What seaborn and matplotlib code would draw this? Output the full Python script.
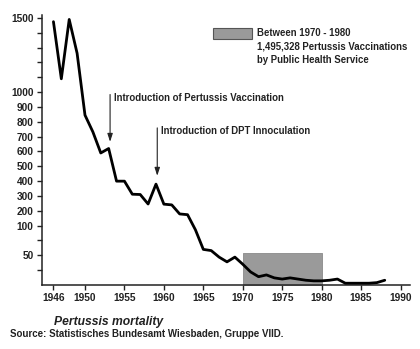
import numpy as np
import pandas as pd
import matplotlib
matplotlib.use("Agg")
import matplotlib.pyplot as plt
from matplotlib.patches import Rectangle
import seaborn as sns

# ---- data ----
years = list(range(1946, 1989))
deaths = [1475, 1090, 1490, 1262, 845, 732, 590, 620, 400, 400,
          312, 310, 246, 380, 245, 240, 179, 174, 93, 60,
          58, 47, 39, 47, 35, 22, 14, 17, 12, 10,
          12, 10, 8, 7, 7, 8, 10, 3, 3, 3,
          3, 4, 8]
vacc_start, vacc_end, vacc_level = 1970, 1980, 54
xtick_years = [1946, 1950, 1955, 1960, 1965, 1970, 1975, 1980, 1985, 1990]
ytick_values = [25, 50, 75, 100, 200, 300, 400, 500, 600, 700, 800, 900,
                1000, 1100, 1200, 1300, 1400, 1500]
ytick_labels = ["", "50", "", "100", "200", "300", "400", "500", "600", "700",
                "800", "900", "1000", "", "", "", "", "1500"]
legend_lines = ["Between 1970 - 1980",
                "1,495,328 Pertussis Vaccinations",
                "by Public Health Service"]
note1 = "Introduction of Pertussis Vaccination"
note2 = "Introduction of DPT Innoculation"
title_text = "Pertussis mortality"
source_text = "Source: Statistisches Bundesamt Wiesbaden, Gruppe VIID."

df = pd.DataFrame({"year": years, "deaths": deaths})

sns.set_theme(style="white")
plt.rcParams['font.family'] = ['Liberation Sans', 'DejaVu Sans']
plt.rcParams['font.weight'] = 'bold'

# piecewise-linear axis: 25 per step below 100, 100 per step above
def fwd(v):
    v = np.asarray(v, dtype=float)
    return np.where(v <= 100, v / 25.0, 4 + (v - 100) / 100.0)

def inv(s):
    s = np.asarray(s, dtype=float)
    return np.where(s <= 4, s * 25.0, 100 + (s - 4) * 100.0)

fig = plt.figure(figsize=(4.2, 3.49), dpi=100)
fig.patch.set_facecolor("white")
ax = fig.add_axes([42/420, (349-285)/349, (410-42)/420, (285-15)/349])
ax.set_facecolor("white")
ax.set_yscale("function", functions=(fwd, inv))

ax.fill_between([vacc_start, vacc_end], 0, vacc_level, color="#9a9a9a",
                edgecolor="#8a8a8a", linewidth=0.6, zorder=1)
sns.lineplot(data=df, x="year", y="deaths", ax=ax, color="black",
             linewidth=2.0, zorder=3)

ax.set_xlim(1944.55, 1991.2)
ax.set_ylim(0, 1520)
ax.set_xticks(xtick_years)
ax.set_xticklabels([str(y) for y in xtick_years])
ax.set_yticks(ytick_values)
ax.set_yticklabels(ytick_labels)
ax.minorticks_off()
ax.set_xlabel("")
ax.set_ylabel("")
for s in ["top", "right"]:
    ax.spines[s].set_visible(False)
for s in ["left", "bottom"]:
    ax.spines[s].set_color("#222222")
    ax.spines[s].set_linewidth(1.1)
ax.tick_params(axis="both", which="major", direction="out", length=3.5,
               width=1.0, color="#222222", labelsize=7.3, labelcolor="#222222",
               pad=2.5, left=True, bottom=True)
for lab in ax.get_xticklabels() + ax.get_yticklabels():
    lab.set_fontweight("bold")

# annotations
arrowprops = dict(arrowstyle="-|>,head_length=0.4,head_width=0.13",
                  color="#222222", lw=0.8, shrinkA=0, shrinkB=0)
ax.annotate("", xy=(1953.18, 665), xytext=(1953.18, 984), arrowprops=arrowprops)
ax.text(1953.68, 962, note1, fontsize=6.9, fontweight="bold", color="#222222",
        va="center", ha="left")
ax.annotate("", xy=(1959.16, 436), xytext=(1959.16, 759), arrowprops=arrowprops)
ax.text(1959.63, 737, note2, fontsize=6.9, fontweight="bold", color="#222222",
        va="center", ha="left")

# legend box
fig.patches.append(Rectangle((212.7/420, (349-39)/349), 39/420, 10.7/349,
                             transform=fig.transFigure, facecolor="#9a9a9a",
                             edgecolor="#555555", linewidth=0.8))
fig.text(257/420, (349-28.5)/349, "\n".join(legend_lines), fontsize=6.95,
         fontweight="bold", color="#222222", va="top", ha="left",
         linespacing=1.4)

fig.text(109/420, (349-322)/349, title_text, fontsize=8.7, fontweight="bold",
         fontstyle="italic", color="#222222", ha="center", va="center")
fig.text(10/420, (349-334)/349, source_text, fontsize=7.0, fontweight="bold",
         color="#222222", ha="left", va="center")

fig.savefig("out.png", dpi=100, facecolor="white")
